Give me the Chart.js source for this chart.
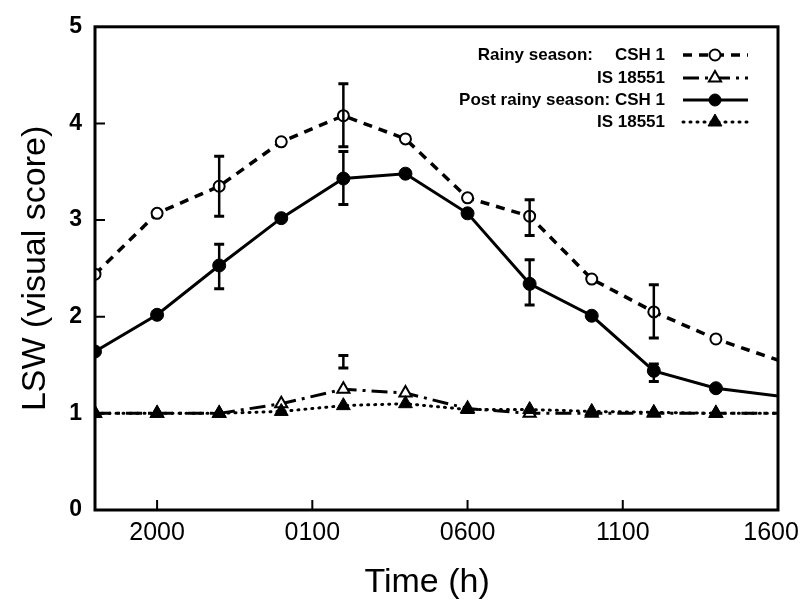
<!DOCTYPE html>
<html>
<head>
<meta charset="utf-8">
<title>LSW (visual score)</title>
<script src="https://cdn.jsdelivr.net/npm/chart.js@4.4.1/dist/chart.umd.min.js"></script>
<style>
    html, body { margin: 0; padding: 0; background: #fff; }
</style>
</head>
<body>
<canvas id="lswChart" width="802" height="605"></canvas>
<script>
// Hours counted from 2000 h
const hours = [-2, 0, 2, 4, 6, 8, 10, 12, 14, 16, 18, 20];
const tickHours = [0, 5, 10, 15, 20];
const tickLabels = ['2000', '0100', '0600', '1100', '1600  '];

// Visual scores
const rainyCsh1 = [2.44, 3.07, 3.35, 3.81, 4.08, 3.84, 3.23, 3.04, 2.39, 2.05, 1.77, 1.55];
const rainyIs18551 = [1.0, 1.0, 1.0, 1.10, 1.25, 1.21, 1.05, 1.0, 1.0, 1.0, 1.0, 1.0];
const postCsh1 = [1.64, 2.02, 2.53, 3.02, 3.43, 3.48, 3.07, 2.34, 2.01, 1.44, 1.26, 1.18];
const postIs18551 = [1.0, 1.0, 1.0, 1.02, 1.08, 1.10, 1.04, 1.04, 1.02, 1.01, 1.0, 1.0];

// Error bars [low, high], null where none is drawn
const rainyCsh1Err = [null, null, [3.04, 3.66], null, [3.76, 4.41], null, null, [2.84, 3.21], null, [1.78, 2.33], null, null];
const rainyIs18551Err = [null, null, null, null, [1.47, 1.60], null, null, null, null, null, null, null];
const postCsh1Err = [null, null, [2.29, 2.75], null, [3.16, 3.71], null, null, [2.12, 2.59], null, [1.33, 1.51], null, null];

const legendLabels = [['Rainy season:', 'CSH 1'], ['', 'IS 18551'], ['', 'Post rainy season: CSH 1'], ['', 'IS 18551']];

const FONT = "'Liberation Sans', Arial, Helvetica, sans-serif";

function toPoints(values) {
    return hours.map((h, i) => ({ x: h, y: values[i] }));
}

// no marker on the last point (it sits on the right frame)
function radius(r) {
    return ctx => ctx.dataIndex === hours.length - 1 ? 0 : r;
}

// Frame + inward tick marks
const framePlugin = {
    id: 'frame',
    afterDatasetsDraw(chart) {
        const { ctx, chartArea: a, scales } = chart;
        ctx.save();
        ctx.strokeStyle = '#000';
        ctx.lineWidth = 3;
        ctx.setLineDash([]);
        ctx.strokeRect(a.left, a.top, a.right - a.left, a.bottom - a.top);
        ctx.lineWidth = 2;
        ctx.beginPath();
        tickHours.forEach(h => {
            const x = scales.x.getPixelForValue(h);
            ctx.moveTo(x, a.bottom);
            ctx.lineTo(x, a.bottom - 10);
        });
        [1, 2, 3, 4].forEach(v => {
            const y = scales.y.getPixelForValue(v);
            ctx.moveTo(a.left, y);
            ctx.lineTo(a.left + 10, y);
        });
        ctx.stroke();
        ctx.restore();
    }
};

// Vertical error bars with caps
const errorBarPlugin = {
    id: 'errorBars',
    afterDatasetsDraw(chart) {
        const { ctx, scales } = chart;
        ctx.save();
        ctx.strokeStyle = '#000';
        ctx.setLineDash([]);
        chart.data.datasets.forEach(ds => {
            if (!ds.errorBars) return;
            ds.errorBars.forEach((err, i) => {
                if (!err) return;
                const x = scales.x.getPixelForValue(hours[i]);
                const yLow = scales.y.getPixelForValue(err[0]);
                const yHigh = scales.y.getPixelForValue(err[1]);
                ctx.lineWidth = 2.5;
                ctx.beginPath();
                ctx.moveTo(x, yLow);
                ctx.lineTo(x, yHigh);
                ctx.stroke();
                ctx.lineWidth = 3;
                ctx.beginPath();
                ctx.moveTo(x - 5, yLow);
                ctx.lineTo(x + 5, yLow);
                ctx.moveTo(x - 5, yHigh);
                ctx.lineTo(x + 5, yHigh);
                ctx.stroke();
            });
        });
        ctx.restore();
    }
};

// Legend drawn in the top right corner of the plot
const legendPlugin = {
    id: 'cornerLegend',
    afterDraw(chart) {
        const { ctx } = chart;
        const textRight = 665;
        const lineLeft = 683;
        const lineRight = 748;
        const markX = 715;
        const rows = [55, 78, 100, 122];
        ctx.save();
        ctx.font = 'bold 17px ' + FONT;
        ctx.textBaseline = 'middle';
        ctx.textAlign = 'right';
        ctx.fillStyle = '#000';
        chart.data.datasets.forEach((ds, i) => {
            const y = rows[i];
            const label = legendLabels[i];
            if (label[0]) ctx.fillText(label[0], textRight - 72, y);
            ctx.fillText(label[1], textRight, y);

            ctx.strokeStyle = '#000';
            ctx.lineWidth = ds.borderWidth;
            ctx.lineCap = ds.borderCapStyle || 'butt';
            ctx.setLineDash(ds.borderDash || []);
            ctx.beginPath();
            ctx.moveTo(lineLeft, y);
            ctx.lineTo(lineRight, y);
            ctx.stroke();

            ctx.setLineDash([]);
            ctx.lineCap = 'butt';
            ctx.fillStyle = ds.pointBackgroundColor;
            ctx.lineWidth = ds.pointBorderWidth;
            Chart.helpers.drawPoint(ctx, {
                pointStyle: ds.pointStyle,
                rotation: 0,
                radius: ds.legendRadius,
                borderWidth: ds.pointBorderWidth
            }, markX, y);
            ctx.fillStyle = '#000';
        });
        ctx.restore();
    }
};

const LswChart = {
    create(canvasId) {
        const canvas = document.getElementById(canvasId);
        if (!canvas) return null;

        return new Chart(canvas, {
            type: 'line',
            data: {
                datasets: [
                    {
                        label: 'Rainy season: CSH 1',
                        data: toPoints(rainyCsh1),
                        errorBars: rainyCsh1Err,
                        borderColor: '#000',
                        borderWidth: 3.5,
                        borderDash: [9, 7],
                        pointStyle: 'circle',
                        pointRadius: radius(5.5),
                        legendRadius: 5.5,
                        pointBackgroundColor: '#fff',
                        pointBorderColor: '#000',
                        pointBorderWidth: 2,
                        tension: 0,
                        order: 3
                    },
                    {
                        label: 'IS 18551',
                        data: toPoints(rainyIs18551),
                        errorBars: rainyIs18551Err,
                        borderColor: '#000',
                        borderWidth: 3,
                        borderDash: [16, 6, 3, 6],
                        pointStyle: 'triangle',
                        pointRadius: radius(7),
                        legendRadius: 7,
                        pointBackgroundColor: '#fff',
                        pointBorderColor: '#000',
                        pointBorderWidth: 2,
                        tension: 0,
                        order: 4
                    },
                    {
                        label: 'Post rainy season: CSH 1',
                        data: toPoints(postCsh1),
                        errorBars: postCsh1Err,
                        borderColor: '#000',
                        borderWidth: 3,
                        pointStyle: 'circle',
                        pointRadius: radius(6.5),
                        legendRadius: 6,
                        pointBackgroundColor: '#000',
                        pointBorderColor: '#000',
                        pointBorderWidth: 1,
                        tension: 0,
                        order: 1
                    },
                    {
                        label: 'IS 18551',
                        data: toPoints(postIs18551),
                        borderColor: '#000',
                        borderWidth: 3,
                        borderDash: [1, 6],
                        borderCapStyle: 'round',
                        pointStyle: 'triangle',
                        pointRadius: radius(8),
                        legendRadius: 8,
                        pointBackgroundColor: '#000',
                        pointBorderColor: '#000',
                        pointBorderWidth: 1,
                        tension: 0,
                        order: 2
                    }
                ]
            },
            options: {
                responsive: false,
                animation: false,
                devicePixelRatio: 1,
                layout: {
                    padding: { left: 0, top: 22, right: 24, bottom: 0 }
                },
                plugins: {
                    legend: { display: false },
                    tooltip: { enabled: false }
                },
                scales: {
                    x: {
                        type: 'linear',
                        min: -2,
                        max: 20,
                        border: { display: false },
                        grid: { display: false, drawTicks: false },
                        afterBuildTicks(scale) {
                            scale.ticks = tickHours.map(v => ({ value: v }));
                        },
                        afterFit(scale) {
                            scale.height = 95;
                            scale.paddingLeft = 0;
                            scale.paddingRight = 0;
                        },
                        ticks: {
                            padding: 8,
                            maxRotation: 0,
                            autoSkip: false,
                            color: '#000',
                            font: { family: FONT, size: 25 },
                            callback: function(value) {
                                const i = tickHours.indexOf(value);
                                return i >= 0 ? tickLabels[i] : '';
                            }
                        },
                        title: {
                            display: true,
                            text: 'Time (h)  ',
                            color: '#000',
                            font: { family: FONT, size: 34 },
                            padding: { top: 0, bottom: 2 }
                        }
                    },
                    y: {
                        min: 0,
                        max: 5,
                        border: { display: false },
                        grid: { display: false, drawTicks: false },
                        afterFit(scale) {
                            scale.width = 95;
                        },
                        ticks: {
                            stepSize: 1,
                            padding: 13,
                            color: '#000',
                            font: { family: FONT, size: 23, weight: 'bold' }
                        },
                        title: {
                            display: true,
                            text: 'LSW (visual score)',
                            color: '#000',
                            font: { family: FONT, size: 34 },
                            padding: { top: 15, bottom: 0 }
                        }
                    }
                }
            },
            plugins: [framePlugin, errorBarPlugin, legendPlugin]
        });
    }
};

LswChart.create('lswChart');
</script>
</body>
</html>
